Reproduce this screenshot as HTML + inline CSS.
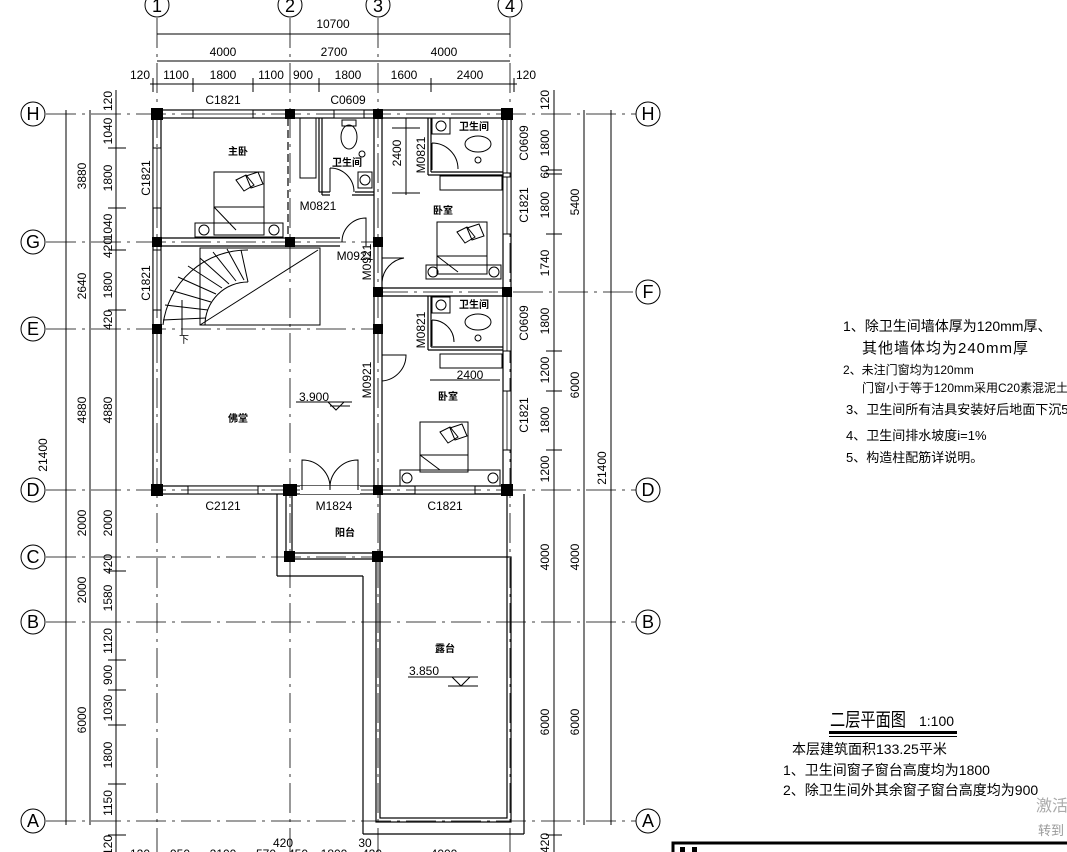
<!DOCTYPE html>
<html><head><meta charset="utf-8"><style>
html,body{margin:0;padding:0;background:#fff;}
svg{display:block;}
text{font-family:"Liberation Sans","Noto Sans CJK SC",sans-serif;fill:#000;}
.d{font-size:12px;}
.g{stroke:#000;stroke-width:0.8;stroke-dasharray:30 6 3 6;fill:none;}
.l{stroke:#000;stroke-width:1;fill:none;}
.w{stroke:#000;stroke-width:1.2;fill:none;}
.c{fill:#000;}
</style></head><body>
<svg width="1067" height="852" viewBox="0 0 1067 852" xmlns="http://www.w3.org/2000/svg">
<g class="g">
<line x1="157" y1="18" x2="157" y2="852"/><line x1="290" y1="18" x2="290" y2="852"/>
<line x1="378" y1="18" x2="378" y2="852"/><line x1="510" y1="18" x2="510" y2="852"/>
<line x1="46" y1="114" x2="636" y2="114"/><line x1="46" y1="242" x2="378" y2="242"/>
<line x1="378" y1="292" x2="636" y2="292"/><line x1="46" y1="329" x2="378" y2="329"/>
<line x1="46" y1="490" x2="636" y2="490"/><line x1="46" y1="557" x2="378" y2="557"/>
<line x1="46" y1="622" x2="636" y2="622"/><line x1="46" y1="821" x2="636" y2="821"/>
</g>
<g stroke="#000" stroke-width="1" fill="#fff">
<circle cx="157" cy="5" r="12"/><circle cx="290" cy="5" r="12"/><circle cx="378" cy="5" r="12"/><circle cx="510" cy="5" r="12"/>
<circle cx="33" cy="114" r="12"/><circle cx="33" cy="242" r="12"/><circle cx="33" cy="329" r="12"/><circle cx="33" cy="490" r="12"/><circle cx="33" cy="557" r="12"/><circle cx="33" cy="622" r="12"/><circle cx="33" cy="821" r="12"/>
<circle cx="648" cy="114" r="12"/><circle cx="648" cy="292" r="12"/><circle cx="648" cy="490" r="12"/><circle cx="648" cy="622" r="12"/><circle cx="648" cy="821" r="12"/>
</g>
<g font-family="Liberation Serif" font-size="18" text-anchor="middle">
<text x="157" y="12">1</text><text x="290" y="12">2</text><text x="378" y="12">3</text><text x="510" y="12">4</text>
<text x="33" y="120">H</text><text x="33" y="248">G</text><text x="33" y="335">E</text><text x="33" y="496">D</text><text x="33" y="563">C</text><text x="33" y="628">B</text><text x="33" y="827">A</text>
<text x="648" y="120">H</text><text x="648" y="298">F</text><text x="648" y="496">D</text><text x="648" y="628">B</text><text x="648" y="827">A</text>
</g>
<g class="l">
<line x1="157" y1="34" x2="510" y2="34"/><line x1="157" y1="61" x2="510" y2="61"/><line x1="150" y1="84" x2="517" y2="84"/>
<line x1="153" y1="78" x2="153" y2="92"/><line x1="193" y1="78" x2="193" y2="92"/><line x1="253" y1="78" x2="253" y2="92"/>
<line x1="319" y1="78" x2="319" y2="92"/><line x1="431" y1="78" x2="431" y2="92"/><line x1="514" y1="78" x2="514" y2="92"/>
</g>
<g class="d" text-anchor="middle">
<text x="333" y="28">10700</text>
<text x="223" y="56">4000</text><text x="334" y="56">2700</text><text x="444" y="56">4000</text>
<text x="140" y="79">120</text><text x="176" y="79">1100</text><text x="223" y="79">1800</text><text x="271" y="79">1100</text><text x="303" y="79">900</text><text x="348" y="79">1800</text><text x="404" y="79">1600</text><text x="470" y="79">2400</text><text x="526" y="79">120</text>
</g>
<g class="l">
<line x1="66" y1="110" x2="66" y2="825"/><line x1="90" y1="110" x2="90" y2="825"/><line x1="116" y1="90" x2="116" y2="852"/>
<line x1="108" y1="148" x2="126" y2="148"/><line x1="108" y1="208" x2="126" y2="208"/><line x1="108" y1="250" x2="126" y2="250"/><line x1="108" y1="310" x2="126" y2="310"/>
<line x1="108" y1="571" x2="126" y2="571"/><line x1="108" y1="660" x2="126" y2="660"/><line x1="108" y1="690" x2="126" y2="690"/><line x1="108" y1="725" x2="126" y2="725"/><line x1="108" y1="784" x2="126" y2="784"/><line x1="108" y1="835" x2="126" y2="835"/>
</g>
<g class="d" text-anchor="middle">
<text transform="translate(47,455) rotate(-90)">21400</text>
<text transform="translate(86,176) rotate(-90)">3880</text>
<text transform="translate(86,286) rotate(-90)">2640</text>
<text transform="translate(86,410) rotate(-90)">4880</text>
<text transform="translate(86,523) rotate(-90)">2000</text>
<text transform="translate(86,590) rotate(-90)">2000</text>
<text transform="translate(86,720) rotate(-90)">6000</text>
<text transform="translate(112,101) rotate(-90)">120</text>
<text transform="translate(112,131) rotate(-90)">1040</text>
<text transform="translate(112,178) rotate(-90)">1800</text>
<text transform="translate(112,227) rotate(-90)">1040</text>
<text transform="translate(112,248) rotate(-90)">420</text>
<text transform="translate(112,285) rotate(-90)">1800</text>
<text transform="translate(112,320) rotate(-90)">420</text>
<text transform="translate(112,410) rotate(-90)">4880</text>
<text transform="translate(112,523) rotate(-90)">2000</text>
<text transform="translate(112,564) rotate(-90)">420</text>
<text transform="translate(112,598) rotate(-90)">1580</text>
<text transform="translate(112,641) rotate(-90)">1120</text>
<text transform="translate(112,675) rotate(-90)">900</text>
<text transform="translate(112,708) rotate(-90)">1030</text>
<text transform="translate(112,755) rotate(-90)">1800</text>
<text transform="translate(112,803) rotate(-90)">1150</text>
<text transform="translate(112,845) rotate(-90)">120</text>
</g>
<g class="l">
<line x1="554" y1="90" x2="554" y2="852"/><line x1="584" y1="110" x2="584" y2="825"/><line x1="611" y1="110" x2="611" y2="825"/>
<line x1="546" y1="170" x2="562" y2="170"/><line x1="546" y1="174" x2="562" y2="174"/><line x1="546" y1="234" x2="562" y2="234"/>
<line x1="546" y1="351" x2="562" y2="351"/><line x1="546" y1="391" x2="562" y2="391"/><line x1="546" y1="450" x2="562" y2="450"/><line x1="546" y1="835" x2="562" y2="835"/>
</g>
<g class="d" text-anchor="middle">
<text transform="translate(549,100) rotate(-90)">120</text>
<text transform="translate(549,143) rotate(-90)">1800</text>
<text transform="translate(549,172) rotate(-90)">60</text>
<text transform="translate(549,205) rotate(-90)">1800</text>
<text transform="translate(549,263) rotate(-90)">1740</text>
<text transform="translate(549,321) rotate(-90)">1800</text>
<text transform="translate(549,370) rotate(-90)">1200</text>
<text transform="translate(549,420) rotate(-90)">1800</text>
<text transform="translate(549,469) rotate(-90)">1200</text>
<text transform="translate(549,557) rotate(-90)">4000</text>
<text transform="translate(549,722) rotate(-90)">6000</text>
<text transform="translate(549,843) rotate(-90)">420</text>
<text transform="translate(579,202) rotate(-90)">5400</text>
<text transform="translate(579,385) rotate(-90)">6000</text>
<text transform="translate(579,557) rotate(-90)">4000</text>
<text transform="translate(579,722) rotate(-90)">6000</text>
<text transform="translate(606,468) rotate(-90)">21400</text>
</g>
<g class="w">
<rect x="153" y="110" width="358" height="384"/>
<rect x="161" y="118" width="342" height="368"/>
<line x1="374" y1="118" x2="374" y2="486"/><line x1="382" y1="118" x2="382" y2="486"/>
<line x1="161" y1="238" x2="340" y2="238"/><line x1="161" y1="246" x2="340" y2="246"/>
<line x1="382" y1="288" x2="503" y2="288"/><line x1="382" y1="296" x2="503" y2="296"/>
<line x1="288" y1="118" x2="288" y2="238" stroke-dasharray="8 4"/>
<line x1="319" y1="118" x2="319" y2="192"/><line x1="322" y1="118" x2="322" y2="195"/>
<line x1="319" y1="192" x2="330" y2="192"/><line x1="322" y1="195" x2="330" y2="195"/>
<line x1="352" y1="195" x2="374" y2="195"/><line x1="355" y1="192" x2="374" y2="192"/>
<line x1="428" y1="118" x2="428" y2="175"/><line x1="431" y1="118" x2="431" y2="172"/>
<line x1="428" y1="175" x2="503" y2="175"/><line x1="431" y1="172" x2="503" y2="172"/>
<line x1="428" y1="296" x2="428" y2="350"/><line x1="431" y1="296" x2="431" y2="347"/>
<line x1="428" y1="350" x2="503" y2="350"/><line x1="431" y1="347" x2="503" y2="347"/>
<line x1="286" y1="494" x2="286" y2="557"/><line x1="292" y1="494" x2="292" y2="557"/>
<line x1="290" y1="553" x2="378" y2="553"/><line x1="290" y1="559" x2="378" y2="559"/>
<line x1="277" y1="494" x2="277" y2="576"/><line x1="277" y1="576" x2="363" y2="576"/>
<line x1="363" y1="576" x2="363" y2="834"/><line x1="363" y1="834" x2="524" y2="834"/><line x1="524" y1="834" x2="524" y2="494"/>
<rect x="376" y="557" width="135" height="265"/><rect x="380" y="494" width="127" height="324"/>
</g>
<g fill="#fff" stroke="#000" stroke-width="1">
<rect x="193" y="110" width="60" height="8"/><rect x="334" y="110" width="30" height="8"/>
<rect x="153" y="148" width="8" height="60"/><rect x="153" y="250" width="8" height="60"/>
<rect x="503" y="118" width="8" height="55"/><rect x="503" y="177" width="8" height="57"/>
<rect x="503" y="296" width="8" height="55"/><rect x="503" y="391" width="8" height="59"/>
<rect x="188" y="486" width="70" height="8"/><rect x="415" y="486" width="60" height="8"/>
</g>
<g stroke="#000" stroke-width="0.8">
<line x1="193" y1="114" x2="253" y2="114"/><line x1="334" y1="114" x2="364" y2="114"/>
<line x1="157" y1="148" x2="157" y2="208"/><line x1="157" y1="250" x2="157" y2="310"/>
<line x1="507" y1="118" x2="507" y2="173"/><line x1="507" y1="177" x2="507" y2="234"/>
<line x1="507" y1="296" x2="507" y2="351"/><line x1="507" y1="391" x2="507" y2="450"/>
<line x1="188" y1="490" x2="258" y2="490"/><line x1="415" y1="490" x2="475" y2="490"/>
</g>
<g class="l" fill="#fff">
<rect x="300" y="486" width="60" height="8" fill="#fff" stroke="none"/>
<path d="M302 490 V460 A28 28 0 0 1 330 490"/><path d="M358 490 V460 A28 28 0 0 0 330 490"/>
<path d="M366 246 V218 A24 24 0 0 0 342 242"/>
<path d="M382 258 H404 A26 26 0 0 0 382 282 Z" fill="none"/>
<path d="M382 355 H406 A26 26 0 0 1 382 381"/>
<path d="M330 168 A24 24 0 0 1 354 192 M330 168 V192"/>
<path d="M432 143 A26 26 0 0 1 458 169 M432 143 V170"/>
<path d="M432 320 A22 22 0 0 1 454 342 M432 320 V346"/>
</g>
<g class="c">
<rect x="151" y="108" width="12" height="12"/><rect x="285" y="109" width="10" height="10"/><rect x="373" y="109" width="10" height="10"/><rect x="501" y="108" width="12" height="12"/>
<rect x="152" y="237" width="10" height="10"/><rect x="285" y="237" width="10" height="10"/><rect x="373" y="237" width="10" height="10"/>
<rect x="152" y="324" width="10" height="10"/><rect x="373" y="287" width="10" height="10"/><rect x="502" y="287" width="10" height="10"/><rect x="373" y="324" width="10" height="10"/>
<rect x="151" y="484" width="12" height="12"/><rect x="283" y="484" width="14" height="12"/><rect x="373" y="485" width="10" height="10"/><rect x="501" y="484" width="12" height="12"/>
<rect x="284" y="551" width="11" height="11"/><rect x="372" y="551" width="11" height="11"/>
</g>
<g class="l" stroke-width="0.8">
<rect x="214" y="172" width="50" height="63"/><line x1="214" y1="207" x2="264" y2="207"/><line x1="214" y1="207" x2="236" y2="230"/>
<rect x="195" y="223" width="88" height="14"/><circle cx="204" cy="230" r="5"/><circle cx="274" cy="230" r="5"/>
<path d="M236 180 l10 -5 l8 10 l-10 6z M246 176 l12 -4 l5 12 l-12 4z"/>
<rect x="437" y="222" width="50" height="52"/><line x1="437" y1="256" x2="487" y2="256"/><line x1="437" y1="256" x2="458" y2="272"/>
<rect x="426" y="265" width="75" height="14"/><circle cx="433" cy="272" r="5"/><circle cx="494" cy="272" r="5"/>
<path d="M457 232 l10 -5 l8 10 l-10 6z M467 228 l12 -4 l5 12 l-12 4z"/>
<rect x="420" y="422" width="48" height="50"/><line x1="420" y1="455" x2="468" y2="455"/><line x1="420" y1="455" x2="440" y2="470"/>
<rect x="400" y="470" width="100" height="16"/><circle cx="407" cy="478" r="5"/><circle cx="493" cy="478" r="5"/>
<path d="M440 432 l10 -5 l8 10 l-10 6z M450 428 l12 -4 l5 12 l-12 4z"/>
<rect x="300" y="118" width="16" height="60"/><rect x="440" y="176" width="62" height="14"/><rect x="440" y="354" width="62" height="14"/>
<ellipse cx="349" cy="137" rx="8" ry="12"/><rect x="342" y="120" width="14" height="6"/>
<rect x="358" y="172" width="14" height="16"/><circle cx="365" cy="180" r="5"/><circle cx="362" cy="154" r="3"/>
<rect x="432" y="118" width="18" height="16"/><circle cx="441" cy="126" r="5"/><ellipse cx="478" cy="144" rx="13" ry="8"/><circle cx="478" cy="160" r="3"/>
<rect x="432" y="297" width="18" height="16"/><circle cx="441" cy="305" r="5"/><ellipse cx="478" cy="322" rx="13" ry="8"/><circle cx="478" cy="338" r="3"/>
<rect x="200" y="248" width="120" height="77"/>
<path d="M163 325 A85 85 0 0 1 248 250"/><path d="M205 325 A43 43 0 0 1 248 282"/>
<path d="M200 325 L318 250"/>
<path d="M163 320 L206 318 M165 305 L208 310 M170 290 L211 302 M178 277 L216 294 M188 266 L222 288 M200 258 L229 284 M213 252 L236 281 M227 249 L244 280 M241 250 L248 282"/>
<line x1="182" y1="300" x2="182" y2="335"/><line x1="330" y1="406" x2="350" y2="406"/>
<line x1="296" y1="402" x2="352" y2="402"/><path d="M328 402 l8 8 l8 -8"/>
<line x1="408" y1="677" x2="478" y2="677"/><path d="M452 677 l9 9 l9 -9"/><line x1="448" y1="686" x2="478" y2="686"/>
<line x1="430" y1="380" x2="500" y2="380"/>
<line x1="392" y1="128" x2="420" y2="128"/><line x1="392" y1="193" x2="420" y2="193"/><line x1="406" y1="118" x2="406" y2="195"/>
</g>
<g class="d" text-anchor="middle">
<text x="223" y="104">C1821</text><text x="348" y="104">C0609</text>
<text x="223" y="510">C2121</text><text x="334" y="510">M1824</text><text x="445" y="510">C1821</text>
<text x="318" y="210">M0821</text><text x="355" y="260">M0921</text>
<text x="470" y="379">2400</text>
<text x="314" y="401">3.900</text><text x="424" y="675">3.850</text>
<text transform="translate(150,178) rotate(-90)">C1821</text>
<text transform="translate(150,283) rotate(-90)">C1821</text>
<text transform="translate(528,143) rotate(-90)">C0609</text>
<text transform="translate(528,205) rotate(-90)">C1821</text>
<text transform="translate(528,323) rotate(-90)">C0609</text>
<text transform="translate(528,415) rotate(-90)">C1821</text>
<text transform="translate(371,262) rotate(-90)">M0921</text>
<text transform="translate(371,380) rotate(-90)">M0921</text>
<text transform="translate(425,330) rotate(-90)">M0821</text>
<text transform="translate(425,155) rotate(-90)">M0821</text>
<text transform="translate(401,153) rotate(-90)">2400</text>
</g>
<g font-size="10" text-anchor="middle" font-weight="bold">
<text x="238" y="155">主卧</text><text x="347" y="166">卫生间</text><text x="474" y="130">卫生间</text><text x="474" y="308">卫生间</text>
<text x="443" y="214">卧室</text><text x="448" y="400">卧室</text><text x="238" y="422">佛堂</text><text x="345" y="536">阳台</text><text x="445" y="652">露台</text>
<text x="184" y="343" font-weight="normal">下</text>
</g>
<g class="d" text-anchor="middle">
<text x="283" y="847">420</text><text x="365" y="847">30</text>
<text x="140" y="858">120</text><text x="180" y="858">950</text><text x="223" y="858">2100</text><text x="266" y="858">570</text><text x="298" y="858">450</text><text x="334" y="858">1800</text><text x="372" y="858">420</text><text x="444" y="858">4000</text>
</g>
<g font-family="Liberation Sans, Noto Sans CJK SC, sans-serif">
<text x="843" y="331" font-size="14">1、除卫生间墙体厚为120mm厚、</text>
<text x="862" y="353" font-size="15" letter-spacing="1">其他墙体均为240mm厚</text>
<text x="843" y="374" font-size="12">2、未注门窗均为120mm</text>
<text x="862" y="392" font-size="12">门窗小于等于120mm采用C20素混泥土</text>
<text x="846" y="414" font-size="13">3、卫生间所有洁具安装好后地面下沉5公分（布置</text>
<text x="846" y="440" font-size="13">4、卫生间排水坡度i=1%</text>
<text x="846" y="462" font-size="13">5、构造柱配筋详说明。</text>
<text x="830" y="726" font-size="19" textLength="76" lengthAdjust="spacingAndGlyphs">二层平面图</text><text x="919" y="726" font-size="14">1:100</text>
<rect x="829" y="731" width="128" height="3" fill="#000"/><rect x="829" y="736" width="128" height="1" fill="#000"/>
<text x="792" y="754" font-size="14">本层建筑面积133.25平米</text>
<text x="783" y="775" font-size="14">1、卫生间窗子窗台高度均为1800</text>
<text x="783" y="795" font-size="14">2、除卫生间外其余窗子窗台高度均为900</text>
<text x="1036" y="811" font-size="16" style="fill:#aaa">激活</text>
<text x="1038" y="835" font-size="13" style="fill:#999">转到</text>
</g>
<rect x="673" y="843" width="400" height="14" fill="#fff" stroke="#000" stroke-width="3"/>
<rect x="680" y="847" width="5" height="8" fill="#000"/><rect x="692" y="847" width="5" height="8" fill="#000"/>
</svg>
</body></html>
